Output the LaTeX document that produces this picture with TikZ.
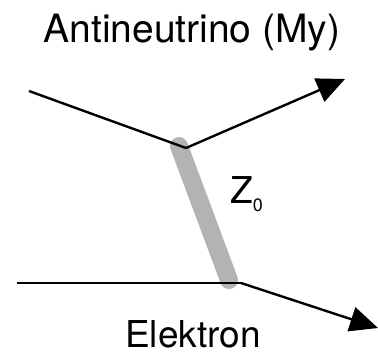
\documentclass[tikz,border=0pt]{standalone}
\usepackage{fontspec}
\setmainfont{TeX Gyre Heros}
\usepackage{tikz}
\usetikzlibrary{
  arrows.meta,
  positioning,
  calc
}
\definecolor{darkgrey}{HTML}{000000}
\definecolor{bosongrey}{HTML}{B3B3B3}
\tikzset{
  fermion/.style={
    line width=2.4pt, color=darkgrey, line join=miter
  },
  fermionout/.style={
    line width=2.4pt, color=darkgrey,
    -{Triangle[length=28pt, width=25pt]}
  },
  boson/.style={
    line width=18pt, color=bosongrey, line cap=round
  },
  partlabel/.style={
    font=\fontsize{37}{40}\selectfont, inner sep=0pt
  },
}

\begin{document}
\begin{tikzpicture}[x=1pt, y=-1pt]
  \useasboundingbox (0,0) rectangle (378,356);

  %% ── Vertices and free ends ────────────────────────────────────────────────
  \coordinate (nuin)   at (29,91);
  \coordinate (vtop)   at (186,148);
  \coordinate (nuout)  at (345,79);
  \coordinate (ein)    at (17,283);
  \coordinate (vbot)   at (241,283);
  \coordinate (eout)   at (378,328);

  %% ── Propagator ────────────────────────────────────────────────────────────
  \draw[boson] ($(vtop)+(-7,-2)$) coordinate (ztop) -- ($(vbot)+(-12,-3)$) coordinate (zbot);

  %% ── Labels ────────────────────────────────────────────────────────────────
  \node[partlabel, font=\fontsize{39}{42}\selectfont, anchor=base] (nulabel)
       at (192,42) {Antineutrino (My)};
  \node[partlabel, anchor=base] (elabel)  at (193,347) {Elektron};
  \node[partlabel, anchor=base west] (zlabel) at (230,203)
       {Z\raisebox{-8pt}{\fontsize{18}{18}\selectfont 0}};

  %% ── Fermion lines ─────────────────────────────────────────────────────────
  \draw[fermion]    (nuin) -- (vtop);
  \draw[fermionout] (vtop) -- (nuout);
  \draw[fermion]    (ein)  -- (vbot);
  \draw[fermionout] (vbot) -- (eout);

\end{tikzpicture}
\end{document}
